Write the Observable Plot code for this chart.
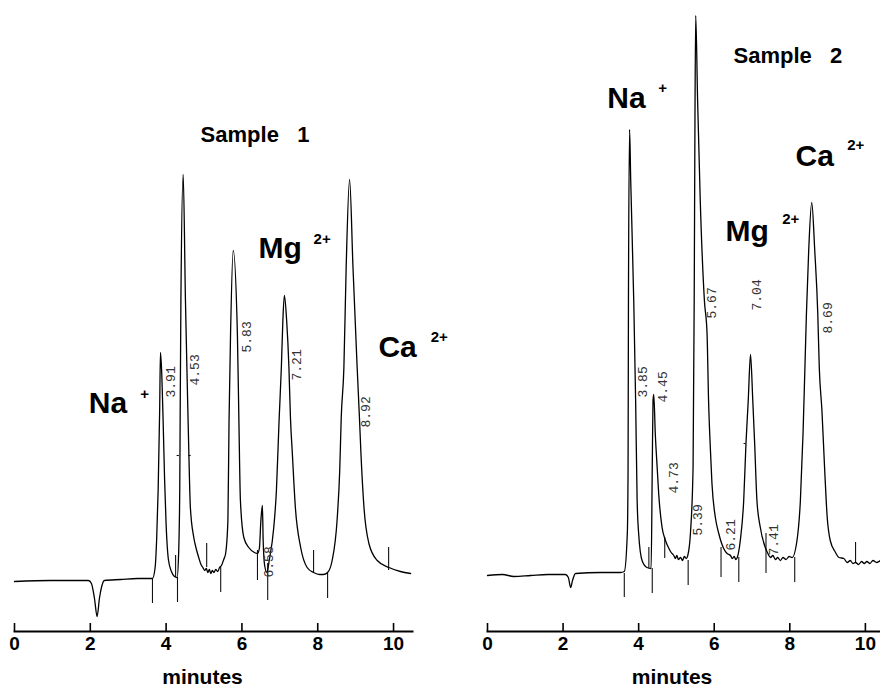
<!DOCTYPE html>
<html>
<head>
<meta charset="utf-8">
<script src="https://cdn.jsdelivr.net/npm/d3@7"></script>
<script src="https://cdn.jsdelivr.net/npm/@observablehq/plot@0.6"></script>
<style>
  html, body { margin: 0; padding: 0; background: #fff; }
  #wrap { display: flex; width: 880px; height: 689px; }
  #wrap svg { display: block; }
  g[aria-label="rt"] text { letter-spacing: 4px; }
  g[aria-label="sample"] text { white-space: pre; }
</style>
</head>
<body>
<div id="wrap"></div>
<script>
// ---------- data (time in minutes, detector response in arbitrary units) ----------
const xTicks = [0, 2, 4, 6, 8, 10];
const axisLabel = "minutes";

// Sample 1 trace [time, response]
const trace1 = [
  [0.00,-2],[0.95,-1],[1.95,-1],[2.03,-4],[2.11,-19],[2.18,-37],[2.24,-19],[2.30,-7],[2.37,-1],[2.80,0],
  [3.25,1],[3.46,1],[3.64,1],[3.71,12],[3.75,40],[3.79,90],[3.83,170],[3.85,227],[3.88,210],[3.92,160],
  [3.96,100],[4.00,55],[4.06,20],[4.14,8],[4.22,3],[4.29,2],[4.33,26],[4.36,92],[4.37,159],[4.39,279],
  [4.45,405],[4.51,279],[4.56,192],[4.60,126],[4.64,72],[4.73,42],[4.80,30],[4.86,22],[4.92,15],[4.97,12],
  [5.02,9],[5.06,11],[5.10,7],[5.14,10],[5.18,6],[5.22,9],[5.26,7],[5.31,10],[5.36,8],[5.41,12],
  [5.46,14],[5.52,20],[5.57,26],[5.63,59],[5.66,159],[5.70,246],[5.77,329],[5.88,246],[5.92,159],[5.96,79],
  [6.05,42],[6.18,32],[6.33,27],[6.41,26],[6.46,31],[6.50,59],[6.54,74],[6.56,39],[6.60,14],[6.66,7],
  [6.72,19],[6.84,52],[6.91,89],[6.98,159],[7.04,212],[7.08,259],[7.12,284],[7.18,259],[7.24,212],[7.28,162],
  [7.33,126],[7.41,72],[7.55,32],[7.72,12],[7.89,7],[8.05,5],[8.15,5],[8.26,7],[8.38,19],[8.51,59],
  [8.58,109],[8.62,162],[8.69,212],[8.75,312],[8.84,400],[8.93,312],[9.04,212],[9.10,162],[9.14,126],[9.22,72],
  [9.35,36],[9.57,19],[9.88,12],[10.18,8],[10.45,6]
];

// Sample 2 trace [time, response]
const trace2 = [
  [0.00,4],[0.40,5],[0.70,3],[1.14,4],[1.60,5],[2.06,5],[2.14,2],[2.20,-8],[2.25,-1],[2.33,6],
  [2.99,7],[3.52,7],[3.62,8],[3.70,46],[3.72,112],[3.73,279],[3.76,450],[3.79,399],[3.87,279],[3.92,179],
  [3.96,79],[4.00,46],[4.09,19],[4.22,12],[4.33,11],[4.36,112],[4.38,179],[4.40,185],[4.44,146],[4.49,112],
  [4.53,86],[4.62,52],[4.71,39],[4.80,31],[4.86,27],[4.93,24],[4.97,21],[5.01,24],[5.05,20],[5.11,22],
  [5.16,19],[5.21,23],[5.26,21],[5.30,24],[5.37,46],[5.44,112],[5.47,279],[5.49,459],[5.51,564],[5.56,479],
  [5.63,379],[5.74,279],[5.81,246],[5.85,179],[5.90,129],[5.94,96],[6.03,62],[6.12,46],[6.25,31],[6.34,26],
  [6.43,24],[6.48,21],[6.53,23],[6.57,20],[6.61,22],[6.69,39],[6.78,79],[6.84,136],[6.90,179],[6.96,225],
  [7.02,179],[7.07,136],[7.13,79],[7.22,52],[7.35,32],[7.42,26],[7.49,22],[7.55,24],[7.62,20],[7.68,22],
  [7.75,19],[7.82,22],[7.90,20],[7.98,23],[8.06,22],[8.19,39],[8.28,79],[8.35,146],[8.40,212],[8.44,266],
  [8.50,329],[8.58,377],[8.66,329],[8.74,266],[8.78,212],[8.85,169],[8.92,112],[8.99,62],[9.07,39],[9.21,27],
  [9.30,22],[9.43,21],[9.52,17],[9.60,19],[9.67,16],[9.74,17],[9.82,15],[9.90,18],[9.97,16],[10.04,18],
  [10.12,16],[10.20,19],[10.30,17],[10.40,19]
];

// integrator event marks
const events1 = [
  {t:3.64,v1:1,v2:-24},{t:4.25,v1:24,v2:2},{t:4.30,v1:2,v2:-23},{t:5.07,v1:36,v2:12},{t:5.44,v1:12,v2:-13},
  {t:6.41,v1:29,v2:-1},{t:6.68,v1:16,v2:-21},{t:7.89,v1:29,v2:6},{t:8.26,v1:6,v2:-19},{t:9.87,v1:32,v2:9}
];
const events2 = [
  {t:3.62,v1:6,v2:-18},{t:4.27,v1:32,v2:11},{t:4.36,v1:11,v2:-14},{t:4.69,v1:42,v2:21},{t:5.31,v1:19,v2:-6},
  {t:6.18,v1:32,v2:2},{t:6.65,v1:22,v2:-3},{t:7.37,v1:46,v2:6},{t:8.13,v1:22,v2:-3},{t:9.74,v1:37,v2:16}
];
const halfMarks1 = [{t1:4.29,t2:4.35,v:124},{t1:4.60,t2:4.66,v:124}];
const halfMarks2 = [{t1:6.79,t2:6.84,v:136}];

// retention time labels
const rt1 = [
  {label:"3.91",t:4.12,v:182},{label:"4.53",t:4.76,v:194},{label:"5.83",t:6.12,v:227},
  {label:"6.58",t:6.72,v:2},{label:"7.21",t:7.44,v:199},{label:"8.92",t:9.26,v:152}
];
const rt2 = [
  {label:"3.85",t:4.10,v:182},{label:"4.45",t:4.63,v:177},{label:"4.73",t:4.92,v:86},
  {label:"5.39",t:5.56,v:44},{label:"5.67",t:5.94,v:261},{label:"6.21",t:6.43,v:29},
  {label:"7.04",t:7.14,v:269},{label:"7.41",t:7.57,v:24},{label:"8.69",t:9.00,v:246}
];

// ion annotations
const ions1 = [{name:"Na",t:1.96,v:167},{name:"Mg",t:6.44,v:322},{name:"Ca",t:9.60,v:223}];
const sups1 = [{sup:"+",t:3.32,v:181},{sup:"2+",t:7.89,v:336},{sup:"2+",t:10.98,v:238}];
const ions2 = [{name:"Na",t:3.17,v:472},{name:"Mg",t:6.30,v:339},{name:"Ca",t:8.15,v:414}];
const sups2 = [{sup:"+",t:4.52,v:487},{sup:"2+",t:7.80,v:356},{sup:"2+",t:9.52,v:430}];
const samples1 = [{label:"Sample   1",t:4.91,v:438}];
const samples2 = [{label:"Sample   2",t:6.51,v:517}];

// ---------- drawing ----------
const sans = "'Liberation Sans', Arial, Helvetica, sans-serif";
const mono = "'Liberation Mono', 'DejaVu Sans Mono', monospace";

function panel({trace, events, half, rt, ions, sups, samples, marginLeft, marginRight, xmax, labelDx}) {
  return Plot.plot({
    width: 440, height: 689,
    marginTop: 0, marginBottom: 58, marginLeft, marginRight,
    x: {domain: [0, xmax]},
    y: {domain: [-52, 579], axis: null},
    style: {background: "transparent", fontFamily: sans, color: "black", overflow: "visible"},
    marks: [
      Plot.frame({anchor: "bottom", strokeWidth: 2, stroke: "black"}),
      Plot.ruleX(xTicks, {x: d => d, insetTop: 623, strokeWidth: 1.6, stroke: "black"}),
      Plot.axisX(xTicks, {tickSize: 0, tickPadding: 5, fontSize: 19, fontWeight: "bold", label: null, tickFormat: d => String(d), fill: "black"}),
      Plot.ruleX(events, {x: "t", y1: "v1", y2: "v2", strokeWidth: 1.1, stroke: "#111"}),
      Plot.ruleY(half, {y: "v", x1: "t1", x2: "t2", strokeWidth: 1.1, stroke: "#111"}),
      Plot.line(trace, {x: d => d[0], y: d => d[1], curve: "monotone-x", strokeWidth: 1.3, stroke: "black"}),
      Plot.text(rt, {x: "t", y: "v", text: "label", rotate: -90, textAnchor: "start", lineAnchor: "middle",
        fontSize: 13, fontFamily: mono, fill: "#333", ariaLabel: "rt"}),
      Plot.text(ions, {x: "t", y: "v", text: "name", textAnchor: "start", lineAnchor: "bottom",
        fontSize: 30, fontWeight: "bold", fill: "black"}),
      Plot.text(sups, {x: "t", y: "v", text: "sup", textAnchor: "start", lineAnchor: "bottom",
        fontSize: 15, fontWeight: "bold", fill: "black"}),
      Plot.text(samples, {x: "t", y: "v", text: "label", textAnchor: "start", lineAnchor: "bottom",
        fontSize: 22, fontWeight: "bold", fill: "black", ariaLabel: "sample"}),
      Plot.text([axisLabel], {frameAnchor: "bottom", text: d => d, dy: 52, dx: labelDx, lineAnchor: "bottom",
        fontSize: 21, fontWeight: "bold", fill: "black"})
    ]
  });
}

const wrap = document.getElementById("wrap");
wrap.append(panel({trace: trace1, events: events1, half: halfMarks1, rt: rt1, ions: ions1, sups: sups1,
  samples: samples1, marginLeft: 14, marginRight: 28, xmax: 10.5, labelDx: -11}));
wrap.append(panel({trace: trace2, events: events2, half: halfMarks2, rt: rt2, ions: ions2, sups: sups2,
  samples: samples2, marginLeft: 47, marginRight: 0, xmax: 10.4, labelDx: -12}));
</script>
</body>
</html>
